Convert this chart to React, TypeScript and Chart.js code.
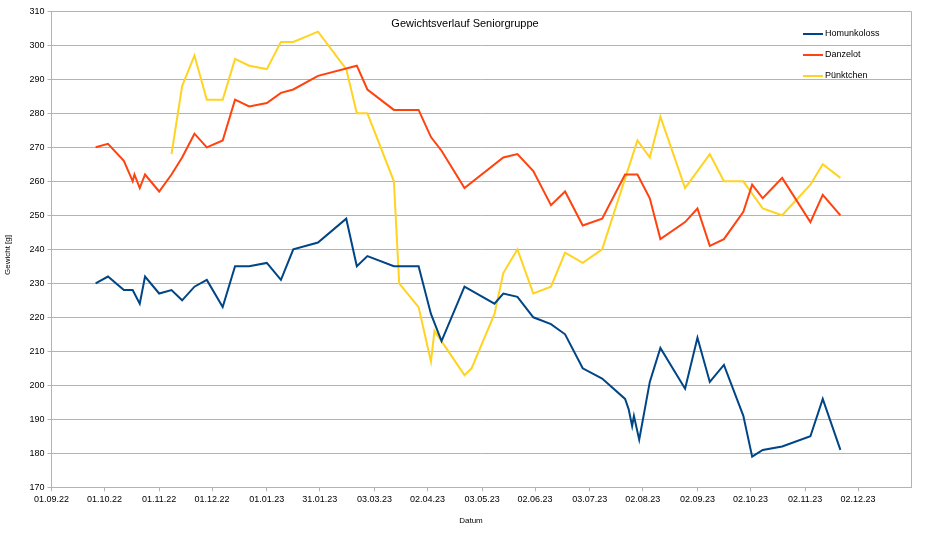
import { useEffect, useRef } from 'react';
import { Chart, registerables } from 'chart.js';

Chart.register(...registerables);

const FONT = '"Liberation Sans", Arial, sans-serif';
const GRID = '#b3b3b3';

const tickLabels = [
  '01.09.22', '01.10.22', '01.11.22', '01.12.22', '01.01.23', '31.01.23', '03.03.23', '02.04.23',
  '03.05.23', '02.06.23', '03.07.23', '02.08.23', '02.09.23', '02.10.23', '02.11.23', '02.12.23',
];

const homunkolossDates = [
  '26.09.22', '03.10.22', '12.10.22', '17.10.22', '21.10.22', '24.10.22', '01.11.22', '08.11.22',
  '14.11.22', '21.11.22', '28.11.22', '07.12.22', '14.12.22', '22.12.22', '01.01.23', '09.01.23',
  '16.01.23', '30.01.23', '15.02.23', '21.02.23', '27.02.23', '14.03.23', '28.03.23', '04.04.23',
  '10.04.23', '23.04.23', '10.05.23', '15.05.23', '23.05.23', '01.06.23', '11.06.23', '19.06.23',
  '29.06.23', '10.07.23', '23.07.23', '25.07.23', '27.07.23', '28.07.23', '31.07.23', '06.08.23',
  '12.08.23', '26.08.23', '02.09.23', '09.09.23', '17.09.23', '28.09.23', '03.10.23', '09.10.23',
  '20.10.23', '05.11.23', '12.11.23', '22.11.23',
];
const homunkolossWeights = [
  230, 232, 228, 228, 224, 232, 227, 228,
  225, 229, 231, 223, 235, 235, 236, 231,
  240, 242, 249, 235, 238, 235, 235, 221,
  213, 229, 224, 227, 226, 220, 218, 215,
  205, 202, 196, 193, 188, 191, 184, 201,
  211, 199, 214, 201, 206, 191, 179, 181,
  182, 185, 196, 181,
];

const danzelotDates = [
  '26.09.22', '03.10.22', '12.10.22', '17.10.22', '18.10.22', '21.10.22', '24.10.22', '01.11.22',
  '08.11.22', '14.11.22', '21.11.22', '28.11.22', '07.12.22', '14.12.22', '22.12.22', '01.01.23',
  '09.01.23', '16.01.23', '30.01.23', '21.02.23', '27.02.23', '14.03.23', '28.03.23', '04.04.23',
  '10.04.23', '23.04.23', '15.05.23', '23.05.23', '01.06.23', '11.06.23', '19.06.23', '29.06.23',
  '10.07.23', '23.07.23', '30.07.23', '06.08.23', '12.08.23', '26.08.23', '02.09.23', '09.09.23',
  '17.09.23', '28.09.23', '03.10.23', '09.10.23', '20.10.23', '05.11.23', '12.11.23', '22.11.23',
];
const danzelotWeights = [
  270, 271, 266, 260, 262, 258, 262, 257,
  262, 267, 274, 270, 272, 284, 282, 283,
  286, 287, 291, 294, 287, 281, 281, 273,
  269, 258, 267, 268, 263, 253, 257, 247,
  249, 262, 262, 255, 243, 248, 252, 241,
  243, 251, 259, 255, 261, 248, 256, 250,
];

const puenktchenDates = [
  '08.11.22', '14.11.22', '21.11.22', '28.11.22', '07.12.22', '14.12.22', '22.12.22', '01.01.23',
  '09.01.23', '16.01.23', '30.01.23', '15.02.23', '21.02.23', '27.02.23', '14.03.23', '17.03.23',
  '28.03.23', '04.04.23', '06.04.23', '23.04.23', '27.04.23', '10.05.23', '15.05.23', '23.05.23',
  '01.06.23', '11.06.23', '19.06.23', '29.06.23', '10.07.23', '30.07.23', '06.08.23', '12.08.23',
  '26.08.23', '09.09.23', '17.09.23', '28.09.23', '09.10.23', '20.10.23', '05.11.23', '12.11.23',
  '22.11.23',
];
const puenktchenWeights = [
  268, 288, 297, 284, 284, 296, 294, 293,
  301, 301, 304, 293, 280, 280, 260, 230,
  223, 207, 216, 203, 205, 221, 233, 240,
  227, 229, 239, 236, 240, 272, 267, 279,
  258, 268, 260, 260, 252, 250, 259, 265,
  261,
];

// days since 01.09.22
const toDay = (s: string) => {
  const [d, m, y] = s.split('.').map(Number);
  return (Date.UTC(2000 + y, m - 1, d) - Date.UTC(2022, 8, 1)) / 86400000;
};

const points = (dates: string[], weights: number[]) =>
  dates.map((d, i) => ({ x: toDay(d), y: weights[i] }));

const decorations = {
  id: 'decorations',
  afterDraw(chart: any) {
    const { ctx, chartArea } = chart;
    ctx.save();

    // right wall border
    const rx = Math.round(chartArea.right) + 0.5;
    ctx.strokeStyle = GRID;
    ctx.lineWidth = 1;
    ctx.beginPath();
    ctx.moveTo(rx, chartArea.top);
    ctx.lineTo(rx, chartArea.bottom);
    ctx.stroke();

    ctx.fillStyle = '#000';
    ctx.textBaseline = 'middle';
    ctx.textAlign = 'center';
    ctx.font = `11px ${FONT}`;
    ctx.fillText('Gewichtsverlauf Seniorgruppe', 465, 24);

    ctx.font = `8px ${FONT}`;
    ctx.fillText('Datum', 471, 521);
    ctx.save();
    ctx.translate(8, 255);
    ctx.rotate(-Math.PI / 2);
    ctx.fillText('Gewicht [g]', 0, 0);
    ctx.restore();

    // legend
    ctx.font = `9px ${FONT}`;
    ctx.textAlign = 'left';
    chart.data.datasets.forEach((ds: any, i: number) => {
      const y = 34 + i * 21;
      ctx.strokeStyle = ds.borderColor;
      ctx.lineWidth = 2;
      ctx.beginPath();
      ctx.moveTo(803, y);
      ctx.lineTo(823, y);
      ctx.stroke();
      ctx.fillText(ds.label, 825, y);
    });

    ctx.restore();
  },
};

export default function App() {
  const chartRef = useRef<HTMLCanvasElement>(null);
  const chartInstance = useRef<Chart | null>(null);

  useEffect(() => {
    if (!chartRef.current) return;
    if (chartInstance.current) chartInstance.current.destroy();

    const tickFont = { family: FONT, size: 9 };

    chartInstance.current = new Chart(chartRef.current, {
      type: 'line',
      data: {
        datasets: [
          {
            label: 'Homunkoloss',
            data: points(homunkolossDates, homunkolossWeights),
            borderColor: '#004586',
            borderWidth: 2,
            pointRadius: 0,
            tension: 0,
          },
          {
            label: 'Danzelot',
            data: points(danzelotDates, danzelotWeights),
            borderColor: '#ff420e',
            borderWidth: 2,
            pointRadius: 0,
            tension: 0,
          },
          {
            label: 'Pünktchen',
            data: points(puenktchenDates, puenktchenWeights),
            borderColor: '#ffd320',
            borderWidth: 2,
            pointRadius: 0,
            tension: 0,
          },
        ],
      },
      options: {
        animation: false,
        responsive: true,
        maintainAspectRatio: false,
        layout: { padding: { top: 11.3, right: 18, left: 0, bottom: 0 } },
        scales: {
          x: {
            type: 'linear',
            min: 0,
            max: 487,
            afterBuildTicks: (scale: any) => {
              scale.ticks = tickLabels.map(l => ({ value: toDay(l) }));
            },
            afterFit: (scale: any) => {
              scale.height = 50.7;
            },
            grid: { drawOnChartArea: false, drawTicks: true, tickLength: 4, color: GRID },
            border: { color: GRID },
            ticks: {
              autoSkip: false,
              maxRotation: 0,
              padding: 3,
              color: '#000',
              font: tickFont,
              callback: (_v: any, i: number) => tickLabels[i],
            },
          },
          y: {
            min: 170,
            max: 310,
            afterFit: (scale: any) => {
              scale.width = 51.5;
            },
            grid: { color: GRID, tickLength: 4 },
            border: { color: GRID },
            ticks: { stepSize: 10, padding: 3, color: '#000', font: tickFont },
          },
        },
        plugins: {
          legend: { display: false },
          title: { display: false },
          tooltip: { enabled: false },
        },
      },
      plugins: [decorations],
    });

    return () => {
      if (chartInstance.current) {
        chartInstance.current.destroy();
        chartInstance.current = null;
      }
    };
  }, []);

  return (
    <div style={{ position: 'fixed', left: 0, top: 0, width: 929, height: 538, background: '#fff' }}>
      <canvas ref={chartRef} />
    </div>
  );
}
